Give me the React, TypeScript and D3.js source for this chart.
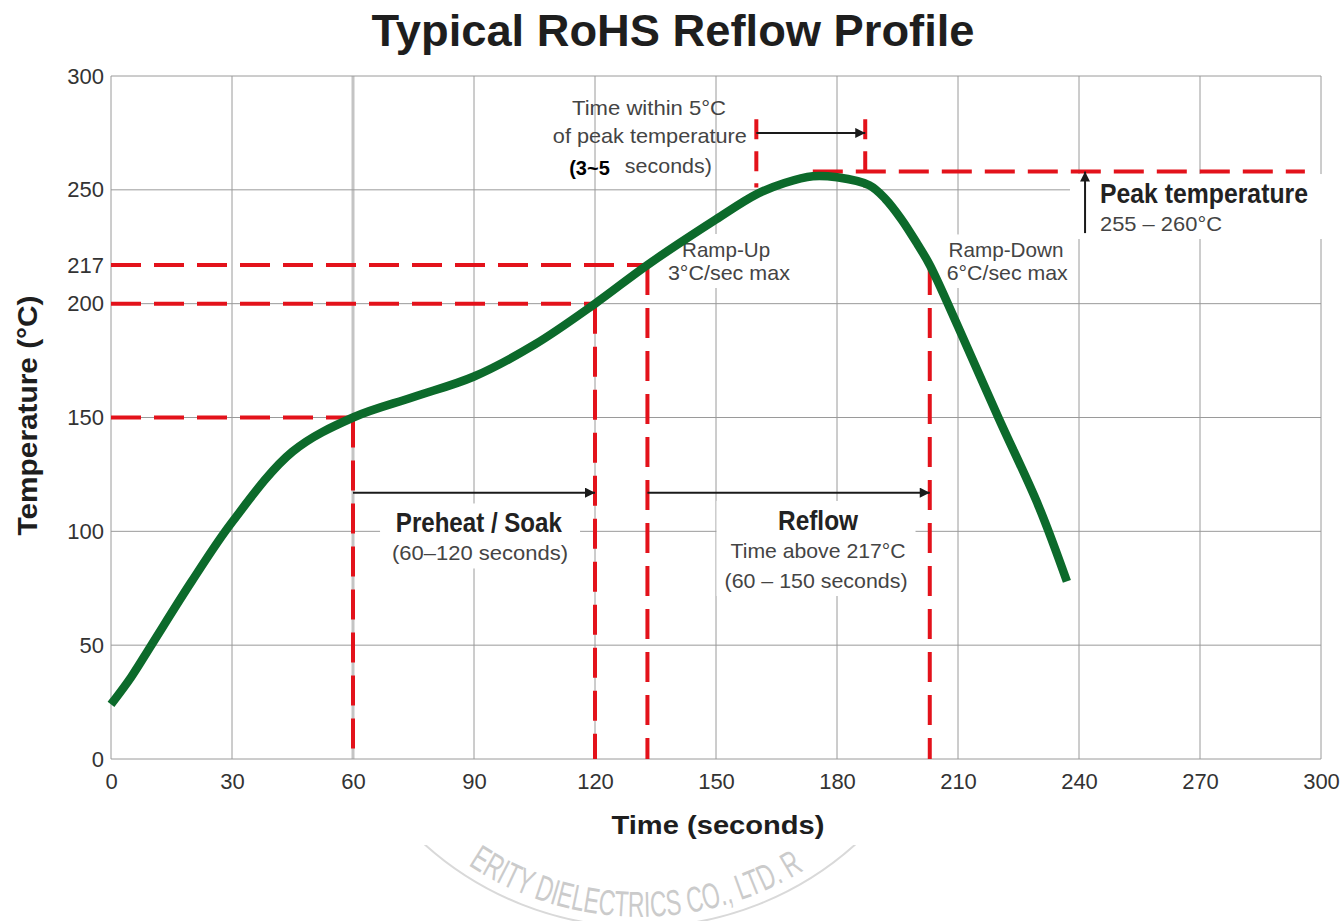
import * as d3 from "d3";
import { useEffect, useRef } from "react";

// reflow profile (seconds, °C)
const profileTime = [0, 5, 10, 20, 30, 45, 60, 75, 90, 105, 120, 133, 150, 160, 167, 174, 180, 188, 192, 196, 200, 203, 210, 220, 230, 237];
const profileTemp = [24, 36, 50, 78, 104, 135, 150, 159, 168, 182, 200, 217, 237, 248, 253, 256, 255.5, 252, 246, 237, 226, 217, 190, 150, 111, 78];

const xTicks = [0, 30, 60, 90, 120, 150, 180, 210, 240, 270, 300];
const yTicks = [0, 50, 100, 150, 200, 217, 250, 300];
const yGrid = [50, 100, 150, 200, 250];

// dashed levels running from the axis to the curve
const levelTemps = [150, 200, 217];
const levelTimes = [60, 120, 133];
// dashed drops from the curve down to 0
const dropTimes = [60, 120, 133, 203];
const dropTemps = [150, 200, 217, 217];

// peak temperature line and the 5°C window
const peakTemp = 258;
const peakSpan = [174, 296];
const peakWindow = [160, 187];
const peakWindowTemps = [251, 281];

// arrows: [t1, T1, t2, T2]
const arrows = [
  [60, 117, 120, 117],
  [133, 117, 203, 117],
  [160, 275, 187, 275],
  [241.5, 231, 241.5, 258],
];

const W = 1340, H = 921;
const FONT = "'Liberation Sans', Arial, Helvetica, sans-serif";
const RED = "#e3121b";
const GREEN = "#0c6a2b";

const App = () => {
  const ref = useRef(null);

  useEffect(() => {
    drawChart();
  }, []);

  function drawChart() {
    const svg = d3.select(ref.current);
    svg.selectAll("*").remove();

    const x = d3.scaleLinear().domain([0, 300]).range([111, 1321]);
    const y = d3.scaleLinear().domain([0, 300]).range([759, 76]);

    svg.append("rect").attr("width", W).attr("height", H).attr("fill", "#fff");

    const defs = svg.append("defs");
    defs.append("marker")
      .attr("id", "arrowHead")
      .attr("viewBox", "0 0 10 10")
      .attr("refX", 10).attr("refY", 5)
      .attr("markerUnits", "userSpaceOnUse")
      .attr("markerWidth", 15).attr("markerHeight", 10)
      .attr("orient", "auto")
      .append("path").attr("d", "M0,0L10,5L0,10z").attr("fill", "#1a1a1a");

    // watermark stamp at the bottom
    defs.append("clipPath").attr("id", "wmClip")
      .append("rect").attr("x", 0).attr("y", 845).attr("width", W).attr("height", 80);
    defs.append("path").attr("id", "wmArc").attr("d", "M420,826 A312,312 0 0,0 860,826");
    const wm = svg.append("g").attr("clip-path", "url(#wmClip)");
    wm.append("circle").attr("cx", 640).attr("cy", 605).attr("r", 322)
      .attr("fill", "none").attr("stroke", "#d9d9d9").attr("stroke-width", 2);
    wm.append("text")
      .style("font-family", FONT).style("font-size", "36px").attr("fill", "#cbcbcb")
      .append("textPath").attr("href", "#wmArc").attr("startOffset", 62)
      .attr("textLength", 355).attr("lengthAdjust", "spacingAndGlyphs")
      .text("ERITY DIELECTRICS CO., LTD. R");

    // grid
    const grid = svg.append("g").attr("stroke", "#9a9a9a").attr("stroke-width", 1);
    grid.selectAll(".vx").data(xTicks.slice(1)).enter().append("line")
      .attr("x1", (d) => x(d)).attr("x2", (d) => x(d))
      .attr("y1", y(0)).attr("y2", y(300))
      .attr("stroke", (d) => (d === 60 ? "#c4c4c4" : null))
      .attr("stroke-width", (d) => (d === 60 ? 3 : null));
    grid.selectAll(".hy").data(yGrid.concat([300])).enter().append("line")
      .attr("x1", x(0)).attr("x2", x(300))
      .attr("y1", (d) => y(d)).attr("y2", (d) => y(d));
    grid.append("line").attr("x1", x(0)).attr("x2", x(0)).attr("y1", y(0)).attr("y2", y(300));
    grid.append("line").attr("x1", x(0)).attr("x2", x(300)).attr("y1", y(0)).attr("y2", y(0));

    // axes
    const yAxis = svg.append("g").attr("transform", `translate(${x(0)},0)`)
      .call(d3.axisLeft(y).tickValues(yTicks).tickSize(0).tickPadding(7));
    const xAxis = svg.append("g").attr("transform", `translate(0,${y(0)})`)
      .call(d3.axisBottom(x).tickValues(xTicks).tickSize(0).tickPadding(14));
    [yAxis, xAxis].forEach((a) => {
      a.select(".domain").remove();
      a.selectAll("text")
        .style("font-family", FONT).style("font-size", "22px").attr("fill", "#333");
    });

    // annotation blocks with a white backing that hides the grid
    const labels = svg.append("g");
    const textBlock = (lines, pad, boxed) => {
      const g = labels.append("g");
      lines.forEach((l) => {
        const t = g.append("text")
          .attr("x", x(l.t)).attr("y", y(l.T))
          .attr("text-anchor", l.anchor || "middle")
          .style("font-family", FONT)
          .style("font-size", `${l.size}px`)
          .style("font-weight", l.bold ? "bold" : "normal")
          .attr("fill", l.fill || "#444")
          .text(l.text);
        if (l.len) t.attr("textLength", l.len).attr("lengthAdjust", "spacingAndGlyphs");
      });
      if (boxed) {
        const b = g.node().getBBox();
        g.insert("rect", ":first-child")
          .attr("x", b.x - pad).attr("y", b.y - 4)
          .attr("width", b.width + 2 * pad).attr("height", b.height + 8)
          .attr("fill", "#fff");
      }
      return g;
    };

    textBlock([
      { t: 91.2, T: 99.5, text: "Preheat / Soak", size: 28, bold: true, fill: "#222", len: 166 },
      { t: 91.5, T: 87.2, text: "(60\u2013120 seconds)", size: 21, len: 176 },
    ], 12, true);
    textBlock([
      { t: 175.3, T: 100.6, text: "Reflow", size: 28, bold: true, fill: "#222", len: 80 },
      { t: 175.3, T: 88.3, text: "Time above 217°C", size: 21, len: 175 },
      { t: 174.8, T: 75.1, text: "(60 \u2013 150 seconds)", size: 21, len: 183 },
    ], 8, true);
    textBlock([
      { t: 152.5, T: 220.5, text: "Ramp-Up", size: 21, len: 88 },
      { t: 153.2, T: 210.4, text: "3°C/sec max", size: 21, len: 122 },
    ], 4, true);
    textBlock([
      { t: 221.9, T: 220.3, text: "Ramp-Down", size: 21, len: 115 },
      { t: 222.2, T: 210.4, text: "6°C/sec max", size: 21, len: 121 },
    ], 6, true);
    textBlock([
      { t: 245.2, T: 244.2, text: "Peak temperature", size: 28, bold: true, fill: "#222", anchor: "start", len: 208 },
      { t: 245.2, T: 231.9, text: "255 \u2013 260°C", size: 21, anchor: "start", len: 122 },
    ], 30, true);
    textBlock([
      { t: 133.4, T: 282.9, text: "Time within 5°C", size: 21, len: 154 },
      { t: 133.6, T: 270.6, text: "of peak temperature", size: 21, len: 194 },
      { t: 127.4, T: 257.4, text: "seconds)", size: 21, anchor: "start", len: 87 },
      { t: 113.6, T: 256.5, text: "(3~5", size: 20, bold: true, fill: "#000", anchor: "start" },
    ], 0, false);

    // red dashed guides
    const guides = svg.append("g")
      .attr("stroke", RED).attr("stroke-width", 4).attr("stroke-dasharray", "30,13").attr("fill", "none");
    guides.selectAll(".lv").data(levelTemps).enter().append("line")
      .attr("x1", x(0)).attr("x2", (d, i) => x(levelTimes[i]))
      .attr("y1", (d) => y(d)).attr("y2", (d) => y(d));
    guides.selectAll(".dr").data(dropTimes).enter().append("line")
      .attr("x1", (d) => x(d)).attr("x2", (d) => x(d))
      .attr("y1", (d, i) => y(dropTemps[i])).attr("y2", y(0));
    guides.append("line")
      .attr("x1", x(peakSpan[0])).attr("x2", x(peakSpan[1]))
      .attr("y1", y(peakTemp)).attr("y2", y(peakTemp));
    guides.selectAll(".pw").data(peakWindow).enter().append("line")
      .attr("x1", (d) => x(d)).attr("x2", (d) => x(d))
      .attr("y1", y(peakWindowTemps[1])).attr("y2", y(peakWindowTemps[0]))
      .attr("stroke-dasharray", "20,12");

    // profile curve
    const line = d3.line()
      .x((d) => x(d[0]))
      .y((d) => y(d[1]))
      .curve(d3.curveCatmullRom.alpha(0.5));
    svg.append("path")
      .datum(profileTime.map((t, i) => [t, profileTemp[i]]))
      .attr("d", line)
      .attr("fill", "none")
      .attr("stroke", GREEN)
      .attr("stroke-width", 8.5)
      .attr("stroke-linecap", "butt")
      .attr("stroke-linejoin", "round");

    // arrows
    svg.append("g").selectAll("line").data(arrows).enter().append("line")
      .attr("x1", (d) => x(d[0])).attr("y1", (d) => y(d[1]))
      .attr("x2", (d) => x(d[2])).attr("y2", (d) => y(d[3]))
      .attr("stroke", "#1a1a1a").attr("stroke-width", 2)
      .attr("marker-end", "url(#arrowHead)");

    // titles
    svg.append("text")
      .attr("x", (x(0) + x(300)) / 2 - 43).attr("y", 46)
      .attr("text-anchor", "middle")
      .style("font-family", FONT).style("font-size", "44px").style("font-weight", "bold")
      .attr("fill", "#1e1e1e")
      .attr("textLength", 603).attr("lengthAdjust", "spacingAndGlyphs")
      .text("Typical RoHS Reflow Profile");
    svg.append("text")
      .attr("x", x(150) + 2).attr("y", 834)
      .attr("text-anchor", "middle")
      .style("font-family", FONT).style("font-size", "26px").style("font-weight", "bold")
      .attr("fill", "#1e1e1e")
      .attr("textLength", 213).attr("lengthAdjust", "spacingAndGlyphs")
      .text("Time (seconds)");
    svg.append("text")
      .attr("transform", `translate(37,${y(150) - 2}) rotate(-90)`)
      .attr("text-anchor", "middle")
      .style("font-family", FONT).style("font-size", "27px").style("font-weight", "bold")
      .attr("fill", "#1e1e1e")
      .attr("textLength", 240).attr("lengthAdjust", "spacingAndGlyphs")
      .text("Temperature (°C)");
  }

  return (
    <svg
      ref={ref}
      width={W}
      height={H}
      style={{ position: "absolute", left: 0, top: 0, display: "block" }}
    />
  );
};

export default App;
